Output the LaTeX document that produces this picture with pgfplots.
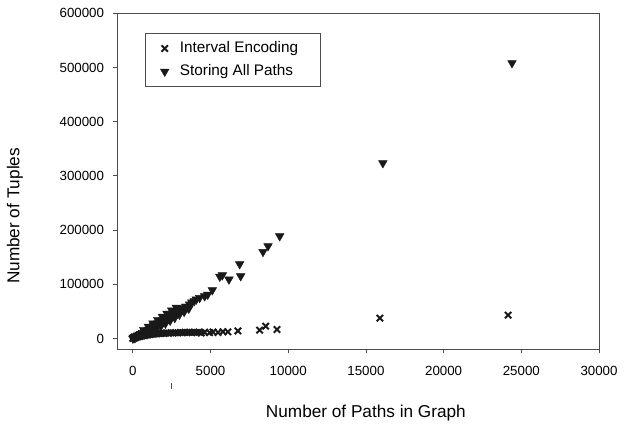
\documentclass[border=0pt]{standalone}
\usepackage{fontspec}
\setmainfont{Liberation Sans}
\usepackage{pgfplots}
\pgfplotsset{compat=1.18}
\begin{document}
\begin{tikzpicture}
\useasboundingbox (-117.3pt,-74.7pt) rectangle (508.7pt,349.3pt);
\begin{axis}[
  scale only axis, width=481.7pt, height=336pt,
  xmin=-1000, xmax=30000, ymin=-20000, ymax=600000,
  clip=false, scaled ticks=false,
  xtick={0,5000,10000,15000,20000,25000,30000},
  xticklabels={0,5000,10000,15000,20000,25000,30000},
  ytick={0,100000,200000,300000,400000,500000,600000},
  yticklabels={0,100000,200000,300000,400000,500000,600000},
  tick label style={font=\fontsize{13.3}{15}\selectfont, inner sep=0pt},
  xticklabel style={yshift=-13pt},
  yticklabel style={xshift=-9.1pt},
  tick align=outside, major tick length=4pt, tick pos=left,
  axis line style={black!70, line width=1pt},
  every tick/.style={black!70, line width=0.8pt},
  label style={font=\fontsize{17.2}{20}\selectfont},
  xlabel={Number of Paths in Graph},
  ylabel={Number of Tuples},
  xlabel style={at={(axis description cs:0.516,-0.1896)}, anchor=center},
  ylabel style={at={(axis description cs:-0.2124,0.397)}, anchor=center},
  legend cell align=left,
  legend style={at={(axis description cs:0.0575,0.941)}, anchor=north west,
    draw=black!70, line width=0.8pt, font=\fontsize{15.3}{18}\selectfont,
    inner xsep=15pt, inner ysep=8pt, row sep=9pt, column sep=10.9pt,
    nodes={inner sep=0pt, text height=11pt, text depth=3pt}},
  legend image code/.code={\draw[mark repeat=2,mark phase=2,#1] plot coordinates {(0pt,0pt)(7.7pt,0pt)(15.4pt,0pt)};},
]
\addplot[only marks, mark=x, mark size=4.5pt, mark options={line width=2pt, draw=black!90}] coordinates {
(0,0) (20,1000) (80,2500) (150,1500) (220,3500) (300,2800) (380,4200) (450,3800)
(520,5000) (600,4600) (680,6000) (760,5600) (850,7000) (940,6500) (1030,7800)
(1120,7300) (1220,8500) (1320,8000) (1420,9000) (1530,8600) (1650,9500) (1780,9100)
(1900,9800) (2030,9400) (2160,10200) (2300,9800) (2450,10500) (2600,10100)
(2750,10800) (2900,10400) (3050,11000) (3200,10700) (3350,11300) (3500,10900)
(3650,11400) (3800,11000) (3950,11500) (4100,10800) (4250,11600) (4405,10200)
(4620,11500) (4940,10800) (5160,12000) (5480,11000) (5800,12500) (6120,12200)
(6765,14000) (8160,15300) (8550,22700) (9280,16600) (15900,37500) (24150,43000)
};
\addlegendentry{Interval Encoding\hspace*{7pt}}
\addplot[only marks, mark=triangle*, mark size=5pt, mark options={rotate=180, fill=black!90, draw=black!90, line width=0.4pt}] coordinates {
(0,0) (40,1500) (80,500) (120,2500) (160,1800) (200,4000) (250,3000) (300,5500)
(350,4500) (400,7000) (450,6000) (500,8500) (560,7500) (620,10500) (680,9000)
(740,12500) (800,11000) (860,14500) (920,12500) (980,16500) (1040,14500)
(1100,19000) (1160,16500) (1220,21000) (1280,18500) (1340,23500) (1400,20500)
(1460,26000) (1520,23000) (1600,28500) (1660,25500) (1740,31000) (1800,28000)
(1880,34000) (1950,30500) (2030,37000) (2100,33500) (2200,40000) (2280,36500)
(2380,43000) (2460,39500) (2560,46500) (2650,43000) (2750,50000) (2850,46500)
(2950,53000) (3050,50000) (3150,56000) (3250,53500) (3400,59000) (3500,57500)
(3650,63000) (3800,66500) (3950,69000) (4085,72000) (4300,75000) (4620,78000)
(4820,81000) (5116,89200) (5600,114000) (5760,116800) (6186,108900)
(6875,137200) (6940,115000) (8376,159900) (8700,170400) (9452,188800)
(16090,323600) (24400,508200)
(700,16000) (1000,22000) (1300,28000) (1600,34500) (1900,40500) (2200,46000)
(2500,52000) (2800,57000) (900,8000) (1200,13000) (1500,17500) (1800,22500)
(2100,27500) (2400,33000) (2700,38000) (3000,44000) (3300,49000) (3600,55000)
};
\addlegendentry{Storing All Paths}
\draw[black!70, line width=0.8pt] (axis description cs:0.1115,-0.1003) -- (axis description cs:0.1115,-0.1182);
\end{axis}
\end{tikzpicture}
\end{document}
